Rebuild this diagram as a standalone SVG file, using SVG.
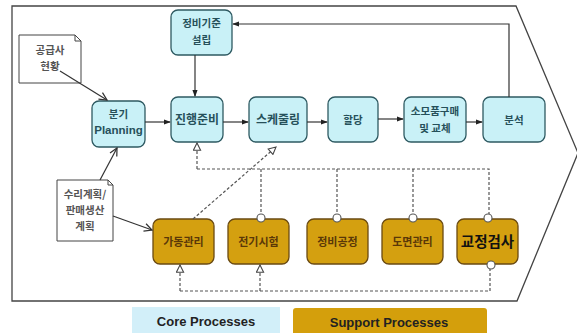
<svg xmlns="http://www.w3.org/2000/svg" width="577" height="333" viewBox="0 0 577 333">
<defs>
<style>
.core rect{fill:#c9f1f7;stroke:#2e5a62;stroke-width:1.3}
.sup rect{fill:#d4a010;stroke:#6a4a12;stroke-width:1.3}
.note path{fill:#fff;stroke:#444;stroke-width:1}
text{font-family:"Noto Sans CJK KR","Liberation Sans",sans-serif;text-anchor:middle}
.ct{font-size:10.5px;fill:#26505a;font-weight:bold}
.st{font-size:11px;fill:#5a3808;font-weight:bold}
.nt{font-size:10.5px;fill:#555;font-weight:bold}
.solid{stroke:#333;stroke-width:1.2;fill:none}
.dash{stroke:#555;stroke-width:1.2;fill:none;stroke-dasharray:3 2}
.lg{font-family:"Liberation Sans",Arial,sans-serif;font-weight:bold;font-size:13px;fill:#222}
</style>
<marker id="a" viewBox="0 0 8 8" refX="7" refY="4" markerWidth="6" markerHeight="6" orient="auto"><path d="M0,1 L8,4 L0,7 z" fill="#222"/></marker>
<marker id="o" viewBox="0 0 10 10" refX="9" refY="5" markerWidth="8" markerHeight="8" orient="auto"><path d="M1,1 L9,5 L1,9" fill="none" stroke="#333" stroke-width="1.3"/></marker>
<marker id="h" viewBox="0 0 10 10" refX="9" refY="5" markerWidth="9" markerHeight="9" orient="auto" markerUnits="userSpaceOnUse"><path d="M1,1 L9,5 L1,9 z" fill="#fff" stroke="#444" stroke-width="1.2"/></marker>
</defs>
<rect width="577" height="333" fill="#fff"/>
<polygon points="12,6 516,6 578,153 517,301 12,301" fill="#fff" stroke="#444" stroke-width="1.3"/>

<g id="n-standard" class="core"><rect x="171" y="10" width="61" height="45" rx="7"/><text class="ct" x="201.5" y="27">정비기준</text><text class="ct" x="201.5" y="44">설립</text></g>
<g id="n-planning" class="core"><rect x="92" y="101" width="53" height="46" rx="7"/><text class="ct" x="118.5" y="118">분기</text><text class="ct" x="118.5" y="134" style="font-family:'Liberation Sans',sans-serif;font-size:11.5px">Planning</text></g>
<g id="n-prep" class="core"><rect x="171" y="97" width="52" height="45" rx="7"/><text class="ct" x="197" y="124" style="font-size:12px">진행준비</text></g>
<g id="n-sched" class="core"><rect x="249" y="97" width="58" height="45" rx="7"/><text class="ct" x="278" y="124" style="font-size:12px">스케줄링</text></g>
<g id="n-alloc" class="core"><rect x="328" y="97" width="50" height="45" rx="7"/><text class="ct" x="353" y="124">할당</text></g>
<g id="n-parts" class="core"><rect x="404" y="97" width="62" height="45" rx="7"/><text class="ct" x="435" y="115">소모품구매</text><text class="ct" x="435" y="132">및 교체</text></g>
<g id="n-analysis" class="core"><rect x="483" y="97" width="62" height="45" rx="7"/><text class="ct" x="514" y="124">분석</text></g>

<g id="n-supplier" class="note"><path d="M19,35 H75 L81,41 V83 H19 Z M75,35 V41 H81"/><text class="nt" x="50" y="54">공급사</text><text class="nt" x="50" y="70">현황</text></g>
<g id="n-repair" class="note"><path d="M57,180 H108 L113,185 V241 H57 Z M108,180 V185 H113"/><text class="nt" x="85" y="198">수리계획/</text><text class="nt" x="85" y="214">판매생산</text><text class="nt" x="85" y="230">계획</text></g>

<g id="n-ops" class="sup"><rect x="153" y="219" width="61" height="45" rx="7"/><text class="st" x="183.5" y="246">가동관리</text></g>
<g id="n-elec" class="sup"><rect x="228" y="219" width="61" height="45" rx="7"/><text class="st" x="258.5" y="246">전기시험</text></g>
<g id="n-proc" class="sup"><rect x="307" y="219" width="61" height="45" rx="7"/><text class="st" x="337.5" y="246">정비공정</text></g>
<g id="n-draw" class="sup"><rect x="382" y="219" width="61" height="45" rx="7"/><text class="st" x="412.5" y="246">도면관리</text></g>
<g id="n-calib" class="sup"><rect x="457" y="219" width="61" height="45" rx="7"/><text x="487.5" y="247" style="font-size:14.5px;font-weight:bold;fill:#111">교정검사</text></g>

<g id="connectors">
<path class="solid" d="M509,97 V24 H233" marker-end="url(#a)"/>
<path class="solid" d="M195,55 V96" marker-end="url(#a)"/>
<path class="solid" d="M60,71 L107,100" marker-end="url(#o)"/>
<path class="solid" d="M100,180 L117,148" marker-end="url(#o)"/>
<path class="solid" d="M113,216 L152,230" marker-end="url(#o)"/>
<path class="solid" d="M145,122 H170" marker-end="url(#a)"/>
<path class="solid" d="M223,122 H248" marker-end="url(#a)"/>
<path class="solid" d="M307,122 H327" marker-end="url(#a)"/>
<path class="solid" d="M378,119 H403" marker-end="url(#a)"/>
<path class="solid" d="M466,122 H482" marker-end="url(#a)"/>
<path class="dash" d="M197,169 V143" marker-end="url(#h)"/>
<path class="dash" d="M197,169 H489 V214"/>
<path class="dash" d="M193,219 L276,147" marker-end="url(#h)"/>
<path class="dash" d="M261,169 V214"/>
<path class="dash" d="M337,169 V214"/>
<path class="dash" d="M413,169 V214"/>
<path class="dash" d="M180,291 V265" marker-end="url(#h)"/>
<path class="dash" d="M260,291 V265" marker-end="url(#h)"/>
<path class="dash" d="M180,291 H490 V269"/>
<g fill="#fff" stroke="#555" stroke-width="1.1">
<circle cx="261" cy="218" r="4"/>
<circle cx="337" cy="218" r="4"/>
<circle cx="413" cy="218" r="4"/>
<circle cx="488" cy="218" r="4"/>
<circle cx="491" cy="265" r="4"/>
</g>
</g>

<g id="legend">
<rect x="132" y="307" width="148" height="28" fill="#d2eff9"/>
<text class="lg" x="206" y="326">Core Processes</text>
<rect x="293" y="308" width="194" height="28" rx="3" fill="#d49f0c"/>
<text class="lg" x="389" y="327">Support Processes</text>
</g>
</svg>
